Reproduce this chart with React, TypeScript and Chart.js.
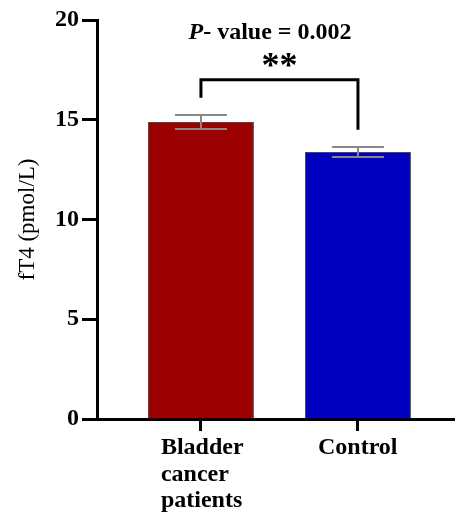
import React, { useEffect, useRef } from 'react';
import { Chart, registerables } from 'chart.js';

Chart.register(...registerables);

// ---- data ----
const categories: string[][] = [['Bladder', 'cancer', 'patients'], ['Control']];
const means: number[] = [14.89, 13.38];
const sems: number[] = [0.35, 0.25];
const barColors: string[] = ['#9c0000', '#0000be'];
const yTicks: number[] = [0, 5, 10, 15, 20];
const yTitle = 'fT4 (pmol/L)';
const bracketTop = 17;
const bracketLegEnds: number[] = [16.1, 14.5];
const pValueText = '- value = 0.002';
const starsText = '**';

const FONT = '"Liberation Serif", "Times New Roman", serif';

const annotPlugin = {
  id: 'annot',
  afterDatasetsDraw(chart: any) {
    const { ctx } = chart;
    const x = chart.scales.x;
    const y = chart.scales.y;
    ctx.save();
    // error bars
    ctx.strokeStyle = '#888888';
    ctx.lineWidth = 2;
    means.forEach((m, i) => {
      const px = x.getPixelForValue(i);
      const t = y.getPixelForValue(m + sems[i]);
      const b = y.getPixelForValue(m - sems[i]);
      ctx.beginPath();
      ctx.moveTo(px, t);
      ctx.lineTo(px, b);
      ctx.moveTo(px - 26, t);
      ctx.lineTo(px + 26, t);
      ctx.moveTo(px - 26, b);
      ctx.lineTo(px + 26, b);
      ctx.stroke();
    });
    // bracket
    ctx.strokeStyle = '#000000';
    ctx.lineWidth = 3;
    ctx.lineJoin = 'miter';
    const x0 = x.getPixelForValue(0);
    const x1 = x.getPixelForValue(1);
    const yt = y.getPixelForValue(bracketTop);
    ctx.beginPath();
    ctx.moveTo(x0, y.getPixelForValue(bracketLegEnds[0]));
    ctx.lineTo(x0, yt);
    ctx.lineTo(x1, yt);
    ctx.lineTo(x1, y.getPixelForValue(bracketLegEnds[1]));
    ctx.stroke();
    // stars
    ctx.fillStyle = '#000000';
    ctx.font = `bold 36px ${FONT}`;
    ctx.textAlign = 'center';
    ctx.textBaseline = 'middle';
    ctx.fillText(starsText, x.getPixelForValue(0.5), y.getPixelForValue(17.6));
    // p-value
    const cy = y.getPixelForValue(19.35);
    const cx = x.getPixelForValue(0.44);
    ctx.font = `italic bold 24px ${FONT}`;
    const wP = ctx.measureText('P').width;
    ctx.font = `bold 24px ${FONT}`;
    const wR = ctx.measureText(pValueText).width;
    const sx = cx - (wP + wR) / 2;
    ctx.textAlign = 'left';
    ctx.font = `italic bold 24px ${FONT}`;
    ctx.fillText('P', sx, cy);
    ctx.font = `bold 24px ${FONT}`;
    ctx.fillText(pValueText, sx + wP, cy);
    ctx.restore();
  },
};

export default function App() {
  const ref = useRef<HTMLCanvasElement>(null);
  useEffect(() => {
    if (!ref.current) return;
    const chart = new Chart(ref.current, {
      type: 'bar',
      data: {
        datasets: [
          {
            data: means.map((m, i) => ({ x: i, y: m })),
            backgroundColor: barColors,
            borderColor: '#4a4a4a',
            borderWidth: 1,
            categoryPercentage: 1,
            barPercentage: 0.675,
          },
        ],
      },
      options: {
        animation: false,
        responsive: false,
        devicePixelRatio: 1,
        layout: { padding: { top: 20, right: 0, left: 0, bottom: 0 } },
        plugins: { legend: { display: false }, tooltip: { enabled: false } },
        scales: {
          x: {
            type: 'linear',
            min: -0.662,
            max: 1.618,
            offset: false,
            afterBuildTicks: (s: any) => {
              s.ticks = categories.map((_, i) => ({ value: i }));
            },
            afterFit: (s: any) => {
              s.height = 96;
            },
            border: { display: true, color: '#000000', width: 3 },
            grid: {
              display: true,
              offset: false,
              drawOnChartArea: false,
              drawTicks: true,
              tickLength: 12,
              tickWidth: 3,
              tickColor: '#000000',
            },
            ticks: {
              callback: (v: any) => categories[Math.round(v)],
              align: 'start',
              labelOffset: -40,
              padding: 4,
              color: '#000000',
              font: { family: FONT, size: 24, weight: 'bold', lineHeight: 1.1 },
              maxRotation: 0,
              autoSkip: false,
            },
          },
          y: {
            type: 'linear',
            min: 0,
            max: 20,
            afterBuildTicks: (s: any) => {
              s.ticks = yTicks.map((v) => ({ value: v }));
            },
            afterFit: (s: any) => {
              s.width = 97;
            },
            border: { display: true, color: '#000000', width: 3 },
            grid: {
              display: true,
              drawOnChartArea: false,
              drawTicks: true,
              tickLength: 15,
              tickWidth: 3,
              tickColor: '#000000',
            },
            ticks: {
              padding: 3,
              color: '#000000',
              font: { family: FONT, size: 24, weight: 'bold' },
            },
            title: {
              display: true,
              text: yTitle,
              color: '#000000',
              font: { family: FONT, size: 23, weight: 'normal' },
              padding: { top: 14, bottom: 0 },
            },
          },
        },
      },
      plugins: [annotPlugin],
    } as any);
    return () => chart.destroy();
  }, []);
  return (
    <div style={{ position: 'fixed', left: 0, top: 0, width: 455, height: 515, background: '#ffffff' }}>
      <canvas ref={ref} width={455} height={515} style={{ display: 'block' }} />
    </div>
  );
}
